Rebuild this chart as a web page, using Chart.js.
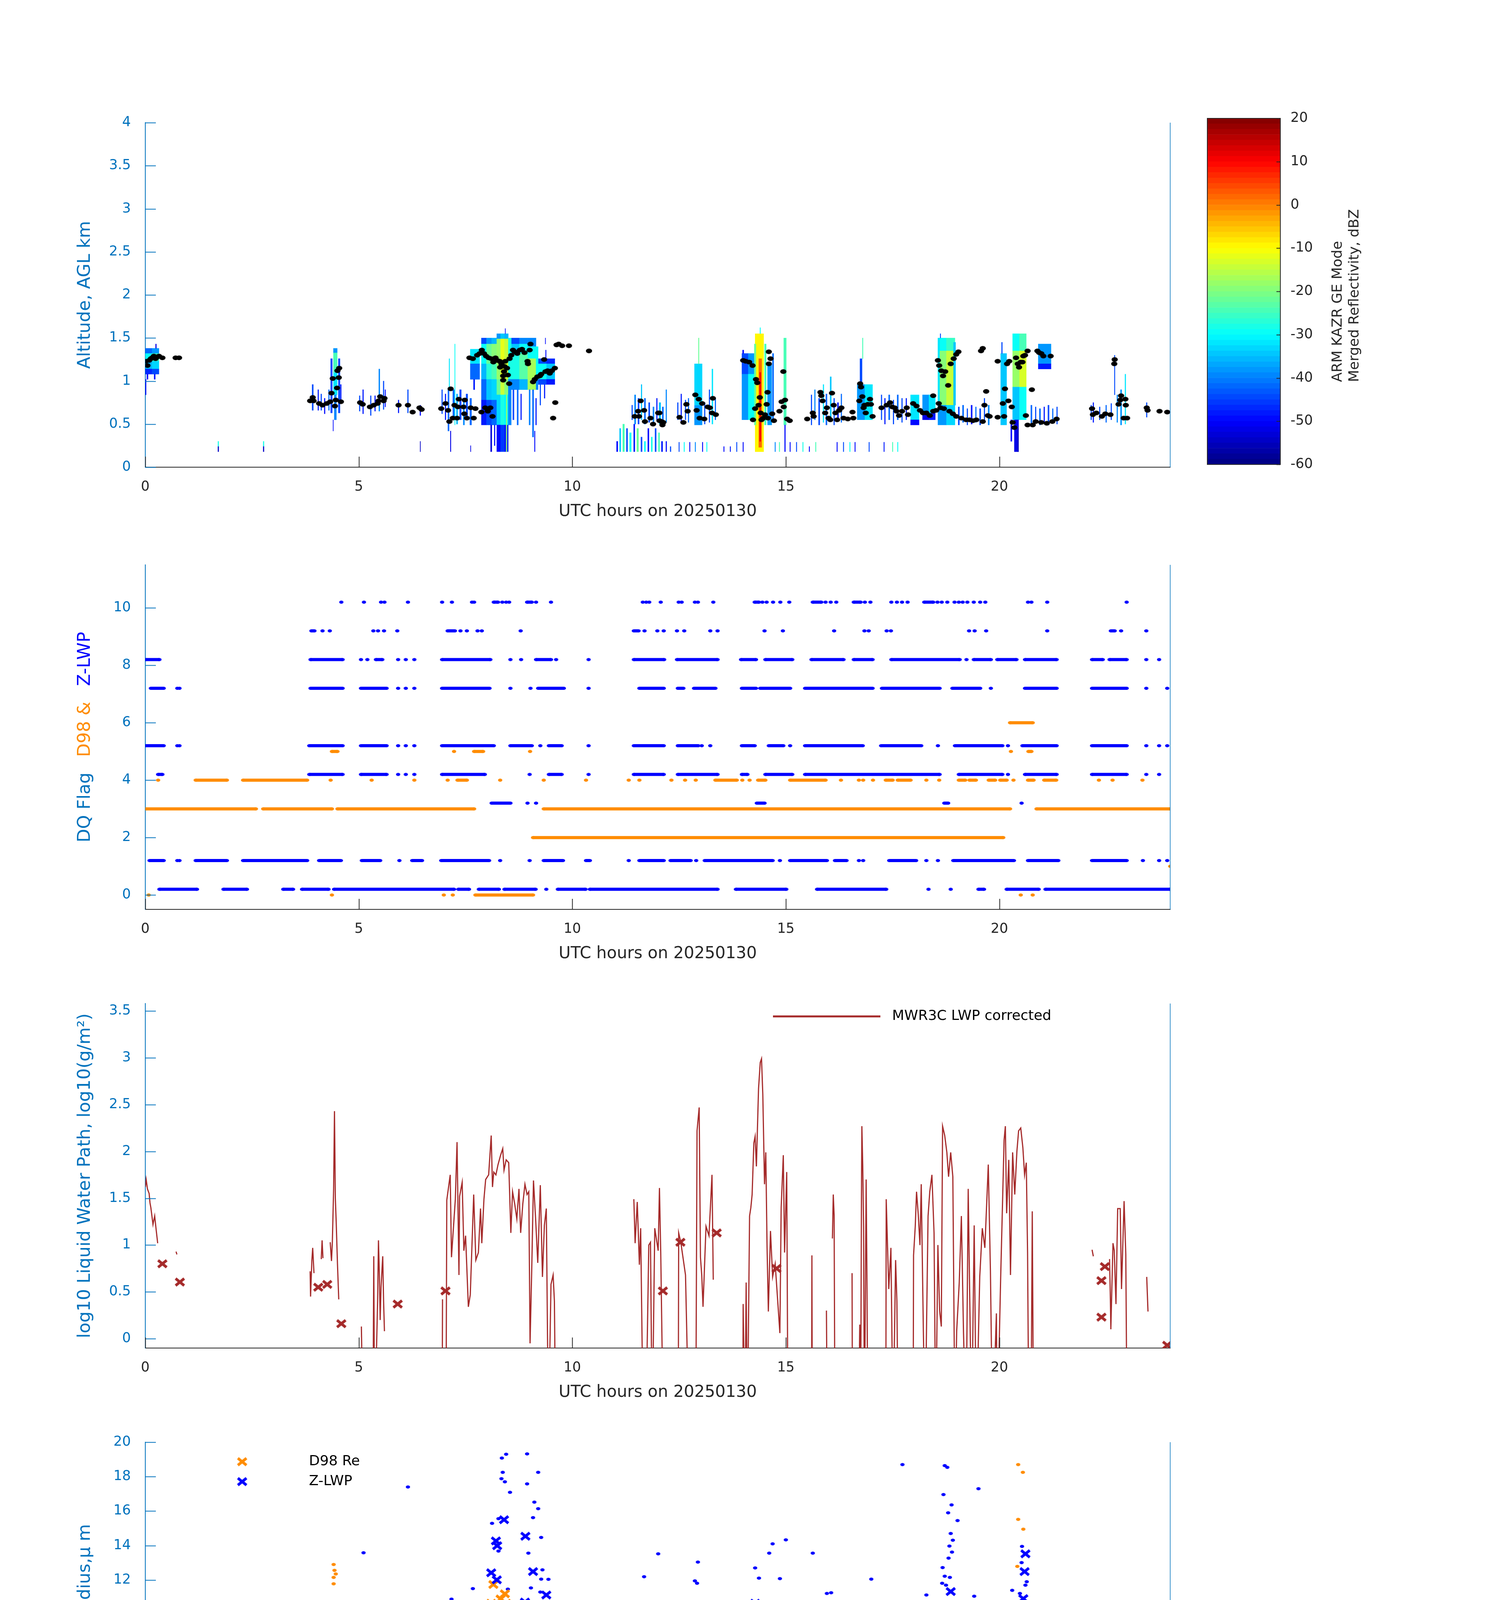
<!DOCTYPE html>
<html lang="en">
<head>
    <meta charset="UTF-8">
    <title>KAZR / MWR3C retrievals 20250130</title>
    <script src="https://cdn.jsdelivr.net/npm/chart.js"></script>
    <style>
        body { margin: 0; background: #fff; }
        #page { position: relative; width: 3825px; height: 7125px; background: #fff; }
        canvas { position: absolute; left: 0; }
    </style>
</head>
<body>
<div id="page">
    <canvas id="p1" width="3040" height="1100" style="top:256px"></canvas>
    <canvas id="cbar" width="825" height="980" style="top:256px;left:3000px"></canvas>
    <canvas id="p2" width="3040" height="1100" style="top:1388px"></canvas>
    <canvas id="p3" width="3040" height="1100" style="top:2511px"></canvas>
    <canvas id="p4" width="3040" height="1100" style="top:3634px"></canvas>
    <canvas id="p5" width="3040" height="1100" style="top:4757px"></canvas>
    <canvas id="p6" width="3040" height="1100" style="top:5888px"></canvas>
</div>
<script>
// ---------- tick labels ----------
const xTicks = [0, 5, 10, 15, 20];
const altTicks = [0, 0.5, 1, 1.5, 2, 2.5, 3, 3.5, 4];
const flagTicks = [0, 2, 4, 6, 8, 10];
const lwpTicks = [0, 0.5, 1, 1.5, 2, 2.5, 3, 3.5];
const reTicks = [0, 2, 4, 6, 8, 10, 12, 14, 16, 18, 20];
const ndTicks = [0, 50, 100, 150, 200, 250, 300];
const odTicks = [0, 10, 20, 30, 40, 50, 60, 70, 80];
const dbzTicks = [-60, -50, -40, -30, -20, -10, 0, 10, 20];

// ---------- panel 1: reflectivity cells [hour centre, width h, base km, top km, dBZ] ----------
const reflCells = [
    [0.08,0.16,1.32,1.38,-42],[0.08,0.16,1.23,1.32,-30],[0.08,0.16,1.14,1.23,-36],[0.08,0.16,1.08,1.14,-47],
    [0.24,0.16,1.32,1.38,-38],[0.24,0.16,1.23,1.32,-26],[0.24,0.16,1.14,1.23,-33],[0.24,0.16,1.08,1.14,-45],
    [0.05,0.03,1.02,1.08,-50],[0.22,0.03,1.02,1.08,-48],[0.01,0.02,0.84,1.02,-50],[0.25,0.02,1.38,1.43,-52],
    [1.71,0.02,0.24,0.30,-28],[1.71,0.02,0.18,0.24,-54],[2.77,0.02,0.24,0.30,-28],[2.77,0.02,0.18,0.24,-54],
    [3.92,0.03,0.66,0.96,-45],[4.05,0.02,0.66,0.90,-48],[4.12,0.02,0.66,0.85,-45],[4.20,0.02,0.62,0.80,-50],[4.30,0.02,0.66,0.90,-42],
    [4.36,0.04,0.63,1.26,-45],[4.45,0.09,0.84,1.10,-32],[4.45,0.09,1.10,1.33,-25],[4.45,0.09,1.33,1.38,-38],[4.45,0.05,0.55,0.84,-40],
    [4.40,0.01,0.42,0.55,-50],[4.54,0.04,0.63,1.26,-45],[4.58,0.02,0.74,0.96,-48],
    [5.02,0.02,0.65,0.83,-45],[5.10,0.02,0.62,0.90,-48],[5.28,0.02,0.60,0.83,-45],[5.38,0.02,0.65,0.83,-48],[5.48,0.025,0.65,1.14,-40],
    [5.58,0.02,0.67,1.00,-45],[5.62,0.015,0.70,0.90,-50],
    [5.93,0.02,0.63,0.78,-48],[6.15,0.02,0.63,0.90,-45],[6.44,0.02,0.60,0.72,-50],[6.44,0.01,0.18,0.30,-55],
    [6.95,0.02,0.62,0.90,-45],[7.03,0.02,0.55,0.85,-48],[7.10,0.03,0.42,0.90,-42],[7.12,0.015,0.90,1.26,-32],[7.15,0.015,0.18,0.42,-52],
    [7.25,0.012,0.49,1.43,-30],[7.22,0.04,0.55,0.90,-42],[7.30,0.03,0.50,0.85,-36],[7.38,0.04,0.55,0.90,-45],[7.46,0.03,0.49,0.80,-40],
    [7.53,0.04,0.55,0.85,-45],[7.62,0.04,0.49,0.80,-42],[7.62,0.01,0.18,0.25,-52],
    [7.72,0.22,1.20,1.37,-32],[7.72,0.22,1.02,1.20,-42],[7.70,0.03,0.90,1.02,-48],
    [7.93,0.12,1.43,1.50,-45],[7.93,0.12,1.20,1.43,-30],[7.93,0.12,1.02,1.20,-36],[7.93,0.12,0.78,1.02,-42],[7.93,0.12,0.49,0.78,-48],
    [8.05,0.12,1.43,1.50,-38],[8.05,0.12,1.20,1.43,-22],[8.05,0.12,1.02,1.20,-27],[8.05,0.12,0.78,1.02,-35],[8.05,0.12,0.49,0.78,-44],
    [8.17,0.12,1.43,1.50,-36],[8.17,0.12,1.20,1.43,-20],[8.17,0.12,1.02,1.20,-25],[8.17,0.12,0.78,1.02,-33],[8.17,0.12,0.49,0.78,-42],
    [8.275,0.09,1.49,1.55,-38],[8.275,0.09,1.02,1.49,-18],[8.275,0.09,0.84,1.02,-22],[8.275,0.09,0.49,0.84,-33],[8.275,0.09,0.18,0.49,-50],
    [8.365,0.09,1.49,1.55,-34],[8.365,0.09,1.02,1.49,-12],[8.365,0.09,0.84,1.02,-15],[8.365,0.09,0.49,0.84,-28],[8.365,0.09,0.18,0.49,-46],
    [8.455,0.09,1.49,1.55,-36],[8.455,0.09,1.02,1.49,-15],[8.455,0.09,0.84,1.02,-19],[8.455,0.09,0.49,0.84,-31],[8.455,0.09,0.18,0.49,-48],
    [8.535,0.07,1.02,1.50,-28],[8.535,0.07,0.49,1.02,-40],
    [8.10,0.03,0.18,0.49,-53],[8.18,0.02,0.25,0.49,-50],[8.46,0.02,0.18,0.84,-18],[8.43,0.01,1.55,1.61,-50],
    [8.665,0.19,1.43,1.50,-44],[8.665,0.19,1.32,1.43,-34],[8.665,0.19,1.02,1.32,-28],[8.665,0.19,0.90,1.02,-40],
    [8.855,0.19,1.43,1.50,-40],[8.855,0.19,1.32,1.43,-30],[8.855,0.19,1.02,1.32,-23],[8.855,0.19,0.90,1.02,-36],
    [9.05,0.20,1.40,1.50,-40],[9.05,0.20,1.26,1.40,-30],[9.05,0.20,0.90,1.26,-17],
    [9.175,0.05,1.02,1.40,-30],[9.175,0.05,0.90,1.02,-40],
    [9.295,0.19,1.20,1.26,-45],[9.295,0.19,1.02,1.20,-30],[9.295,0.19,0.96,1.02,-45],
    [9.49,0.20,1.20,1.26,-47],[9.49,0.20,1.02,1.20,-35],[9.49,0.20,0.96,1.02,-48],
    [8.62,0.03,0.55,0.90,-45],[8.72,0.03,0.49,0.90,-42],[8.80,0.02,0.55,0.85,-48],[9.00,0.03,0.49,0.90,-40],[9.08,0.03,0.35,0.90,-42],
    [9.15,0.02,0.49,0.80,-48],[9.25,0.02,0.72,0.96,-45],[9.35,0.02,0.80,0.96,-48],
    [9.38,0.015,1.26,1.36,-50],[9.37,0.01,1.43,1.50,-50],[9.12,0.015,0.18,0.42,-50],
    [11.05,0.03,0.18,0.30,-50],[11.12,0.03,0.18,0.45,-35],[11.20,0.04,0.18,0.50,-25],[11.28,0.03,0.18,0.45,-45],[11.36,0.04,0.18,0.40,-30],
    [11.45,0.03,0.18,0.50,-48],[11.53,0.04,0.18,0.45,-22],[11.62,0.03,0.18,0.35,-45],[11.70,0.03,0.18,0.30,-30],[11.78,0.03,0.18,0.45,-50],
    [11.86,0.03,0.18,0.35,-28],[11.95,0.03,0.18,0.45,-45],[12.03,0.03,0.18,0.40,-25],[12.10,0.03,0.18,0.30,-48],[12.20,0.02,0.18,0.30,-50],
    [12.30,0.02,0.18,0.24,-45],
    [11.40,0.02,0.55,0.72,-45],[11.47,0.03,0.50,0.84,-40],[11.55,0.03,0.50,0.80,-45],[11.62,0.02,0.55,0.96,-35],[11.70,0.03,0.50,0.80,-42],
    [11.80,0.03,0.52,0.75,-45],[11.90,0.03,0.50,0.70,-40],[11.98,0.02,0.55,0.80,-48],[12.05,0.04,0.50,0.75,-35],[12.12,0.03,0.50,0.70,-42],
    [12.20,0.02,0.52,0.90,-40],
    [12.47,0.02,0.55,0.75,-45],[12.55,0.02,0.52,0.85,-48],[12.65,0.02,0.55,0.78,-45],[12.72,0.02,0.52,0.80,-42],
    [12.95,0.18,0.49,0.72,-38],[12.95,0.18,0.72,1.20,-33],[12.96,0.015,1.20,1.50,-22],
    [13.10,0.02,0.50,0.75,-45],[13.21,0.02,0.52,0.90,-45],[13.28,0.025,0.50,1.14,-32],[13.35,0.02,0.55,0.80,-42],
    [12.50,0.015,0.18,0.29,-45],[12.62,0.015,0.18,0.29,-30],[12.75,0.015,0.18,0.29,-50],[12.88,0.015,0.18,0.29,-40],[13.05,0.015,0.18,0.29,-50],
    [13.15,0.015,0.18,0.29,-30],[13.55,0.015,0.18,0.24,-50],[13.70,0.015,0.18,0.24,-48],[13.85,0.015,0.18,0.29,-45],
    [14.045,0.15,1.08,1.32,-45],[14.045,0.15,0.55,1.08,-38],[14.195,0.15,1.08,1.32,-38],[14.195,0.15,0.55,1.08,-30],
    [14.00,0.03,1.32,1.36,-50],[14.00,0.015,0.18,0.29,-50],
    [14.38,0.20,0.18,1.55,-10],[14.40,0.07,0.23,1.26,2],[14.40,0.03,0.30,1.10,10],[14.28,0.04,0.49,1.43,-22],[14.52,0.04,0.49,1.43,-25],
    [14.40,0.015,1.55,1.62,-30],[14.62,0.10,0.49,1.20,-38],[14.70,0.03,0.55,1.32,-42],
    [14.98,0.06,0.49,1.50,-25],[14.98,0.02,0.18,0.49,-50],
    [14.75,0.015,0.18,0.29,-40],[14.85,0.015,0.18,0.29,-25],[15.10,0.015,0.18,0.29,-50],[15.25,0.015,0.18,0.29,-45],[15.40,0.015,0.18,0.29,-28],
    [15.55,0.015,0.18,0.24,-50],[15.70,0.015,0.18,0.29,-25],
    [15.60,0.02,0.49,0.84,-45],[15.68,0.02,0.55,0.90,-40],[15.78,0.03,0.49,0.80,-45],[15.88,0.02,0.52,0.96,-32],[15.95,0.03,0.49,0.85,-42],
    [16.05,0.03,0.55,1.05,-35],[16.13,0.02,0.49,0.80,-45],[16.22,0.03,0.55,0.75,-48],[16.30,0.02,0.52,0.85,-42],
    [16.76,0.18,0.55,0.96,-38],[16.94,0.18,0.55,0.96,-32],[16.76,0.05,0.96,1.26,-45],[16.80,0.015,1.26,1.50,-25],
    [16.20,0.015,0.18,0.29,-50],[16.35,0.015,0.18,0.29,-45],[16.50,0.015,0.18,0.29,-30],[16.62,0.015,0.18,0.29,-50],[16.95,0.015,0.18,0.29,-45],
    [17.30,0.015,0.18,0.29,-48],[17.50,0.015,0.18,0.29,-25],[17.62,0.015,0.18,0.29,-30],
    [17.24,0.02,0.55,0.84,-45],[17.32,0.02,0.50,0.80,-48],[17.42,0.03,0.55,0.84,-42],[17.52,0.02,0.50,0.78,-45],[17.62,0.03,0.55,0.84,-42],
    [17.72,0.02,0.52,0.80,-45],[17.82,0.02,0.55,0.80,-48],[18.02,0.20,0.55,0.84,-32],[18.02,0.20,0.49,0.55,-50],
    [18.275,0.15,0.55,0.63,-52],[18.275,0.15,0.63,0.84,-38],[18.425,0.15,0.55,0.63,-48],[18.425,0.15,0.63,0.84,-32],
    [18.66,0.20,1.35,1.50,-30],[18.66,0.20,0.72,1.35,-20],[18.66,0.20,0.49,0.72,-38],
    [18.86,0.20,1.35,1.50,-26],[18.86,0.20,0.72,1.35,-14],[18.86,0.20,0.49,0.72,-33],
    [18.58,0.04,0.72,1.50,-32],[18.95,0.05,0.72,1.45,-35],[18.62,0.015,1.50,1.55,-45],
    [19.05,0.03,0.49,0.70,-45],[19.15,0.03,0.52,0.72,-42],[19.25,0.02,0.49,0.68,-45],[19.35,0.03,0.50,0.72,-48],[19.45,0.02,0.52,0.70,-42],
    [19.55,0.03,0.49,0.68,-45],[19.65,0.02,0.52,0.80,-45],[19.75,0.03,0.49,0.72,-40],
    [20.10,0.14,0.49,1.32,-35],[20.06,0.02,1.32,1.45,-45],
    [20.39,0.16,1.35,1.55,-30],[20.39,0.16,0.93,1.35,-18],[20.39,0.16,0.55,0.93,-34],
    [20.55,0.16,1.35,1.55,-25],[20.55,0.16,0.93,1.35,-13],[20.55,0.16,0.55,0.93,-30],
    [20.40,0.10,0.18,0.55,-52],[20.28,0.03,0.30,0.55,-50],[20.44,0.015,0.18,0.45,-56],
    [21.06,0.30,1.20,1.43,-38],[21.06,0.30,1.14,1.20,-48],
    [20.75,0.03,0.49,0.72,-42],[20.85,0.02,0.52,0.70,-45],[20.95,0.03,0.49,0.68,-42],[21.05,0.02,0.52,0.70,-48],[21.15,0.03,0.49,0.72,-45],
    [21.25,0.02,0.52,0.68,-42],[21.35,0.02,0.50,0.70,-45],
    [22.15,0.02,0.55,0.72,-45],[22.20,0.02,0.52,0.75,-48],[22.35,0.02,0.55,0.70,-45],[22.50,0.02,0.52,0.72,-42],[22.62,0.02,0.55,0.74,-45],
    [22.70,0.015,0.84,1.30,-45],[22.76,0.02,0.52,0.84,-40],[22.85,0.03,0.49,0.90,-38],[22.95,0.02,0.50,1.08,-32],
    [23.45,0.02,0.58,0.75,-45]
];

// black cloud-base markers [hour, km]
const baseHeights = [
    [0.01,1.23],[0.05,1.18],[0.09,1.24],[0.13,1.26],[0.16,1.27],[0.20,1.29],[0.24,1.26],[0.28,1.28],[0.32,1.29],[0.40,1.27],[0.71,1.27],[0.79,1.27],
    [3.86,0.77],[3.92,0.81],[3.94,0.77],[4.07,0.74],[4.15,0.72],[4.25,0.74],[4.33,0.76],[4.36,0.86],[4.39,1.03],[4.44,0.71],[4.46,0.78],
    [4.49,0.92],[4.50,1.12],[4.54,1.15],[4.53,1.04],[4.58,0.76],
    [5.03,0.75],[5.09,0.73],[5.26,0.70],[5.35,0.72],[5.44,0.74],[5.46,0.77],[5.50,0.82],[5.58,0.77],[5.60,0.80],
    [5.93,0.72],[6.15,0.72],[6.26,0.64],[6.42,0.69],[6.47,0.67],
    [6.93,0.68],[7.03,0.74],[7.09,0.66],[7.15,0.91],[7.12,0.53],[7.20,0.57],[7.30,0.57],[7.24,0.72],[7.32,0.70],[7.34,0.79],[7.45,0.70],
    [7.47,0.62],[7.48,0.78],[7.53,0.57],[7.62,0.69],[7.69,0.57],[7.73,0.68],[7.87,0.64],[7.96,0.69],[8.02,0.65],[8.08,0.69],[8.13,0.59],
    [7.59,1.27],[7.67,1.26],[7.77,1.30],[7.83,1.32],[7.88,1.36],[7.93,1.32],[7.98,1.29],[8.04,1.27],[8.10,1.26],[8.15,1.22],[8.20,1.27],
    [8.24,1.24],[8.30,1.23],[8.34,1.20],[8.38,1.06],[8.40,1.11],[8.41,1.17],[8.43,1.23],[8.47,1.15],[8.49,1.07],[8.52,0.97],[8.38,1.01],
    [8.31,1.16],[8.53,1.26],[8.57,1.30],[8.61,1.36],[8.65,1.34],[8.71,1.32],[8.77,1.36],[8.82,1.37],[8.88,1.33],[8.95,1.23],[8.96,1.20],
    [9.00,1.36],[9.02,1.43],[9.08,0.99],[9.12,1.02],[9.18,1.05],[9.24,1.06],[9.27,1.08],[9.34,1.25],[9.37,1.11],[9.42,1.12],[9.47,1.09],
    [9.52,1.12],[9.59,1.15],[9.60,0.75],[9.55,0.57],[9.63,1.42],[9.68,1.43],[9.76,1.41],[9.92,1.41],[10.39,1.35],
    [11.46,0.59],[11.54,0.65],[11.60,0.77],[11.56,0.59],[11.68,0.66],[11.70,0.53],[11.83,0.57],[11.89,0.50],[12.01,0.63],[12.09,0.53],[12.13,0.52],
    [12.04,0.63],[12.04,0.54],[12.11,0.49],[12.51,0.58],[12.60,0.52],[12.67,0.73],[12.70,0.65],[12.88,0.84],[12.91,0.66],[12.96,0.79],
    [12.98,0.57],[13.04,0.74],[13.09,0.56],[13.17,0.70],[13.22,0.69],[13.29,0.80],[13.27,0.63],[13.36,0.61],
    [14.00,1.24],[14.06,1.23],[14.14,1.22],[14.22,1.18],[14.30,1.02],[14.33,0.98],[14.23,0.55],[14.28,0.68],[14.36,0.72],[14.39,0.81],
    [14.41,0.63],[14.43,0.55],[14.47,0.57],[14.51,0.61],[14.55,0.73],[14.58,0.57],[14.60,1.34],[14.64,1.26],[14.60,1.20],[14.57,0.87],
    [14.68,0.62],[14.72,0.54],[14.85,0.65],[14.90,0.76],[14.94,1.11],[14.95,0.70],[14.98,0.78],[15.03,0.56],[15.09,0.54],
    [15.50,0.56],[15.63,0.63],[15.65,0.59],[15.81,0.87],[15.83,0.83],[15.86,0.77],[15.92,0.63],[15.96,0.69],[16.00,0.57],[16.04,0.55],
    [16.08,0.86],[16.12,0.72],[16.16,0.63],[16.20,0.55],[16.25,0.66],[16.30,0.69],[16.35,0.57],[16.45,0.56],[16.56,0.64],[16.58,0.57],
    [16.72,0.77],[16.74,0.97],[16.76,0.93],[16.79,0.82],[16.82,0.69],[16.84,0.72],[16.87,0.63],[16.92,0.73],[16.97,0.79],[16.99,0.73],[17.03,0.59],
    [17.24,0.69],[17.36,0.72],[17.44,0.75],[17.49,0.70],[17.55,0.69],[17.59,0.65],[17.65,0.60],[17.72,0.65],[17.83,0.69],[17.86,0.61],
    [17.98,0.74],[18.06,0.71],[18.14,0.66],[18.21,0.63],[18.29,0.63],[18.37,0.60],[18.45,0.65],[18.52,0.66],[18.58,0.74],[18.62,0.69],
    [18.70,0.68],[18.45,0.83],[18.56,1.24],[18.59,1.18],[18.64,1.12],[18.68,1.06],[18.73,1.11],[18.80,0.95],[18.86,1.20],[18.93,1.26],
    [18.99,1.31],[19.04,1.34],[18.83,0.65],[18.91,0.62],[18.99,0.59],[19.11,0.57],[19.22,0.55],[19.30,0.55],[19.38,0.54],[19.46,0.55],
    [19.61,0.53],[19.73,0.60],[19.77,0.59],[19.61,1.38],[19.57,1.35],[19.65,0.72],[19.69,0.88],
    [19.96,0.58],[19.96,1.23],[20.08,0.74],[20.13,0.91],[20.11,0.59],[20.21,0.77],[20.18,1.20],[20.23,1.23],[20.29,0.70],[20.31,0.52],
    [20.35,0.46],[20.39,1.27],[20.43,1.20],[20.46,1.16],[20.50,1.22],[20.54,1.22],[20.56,1.29],[20.60,1.30],[20.62,0.60],[20.66,1.35],
    [20.66,0.49],[20.76,0.90],[20.78,0.49],[20.85,0.53],[20.89,1.35],[20.93,1.33],[20.98,1.32],[21.03,1.29],[20.98,0.52],[21.11,0.51],
    [21.20,1.29],[21.24,0.53],[21.34,0.56],
    [22.17,0.68],[22.19,0.61],[22.27,0.63],[22.40,0.59],[22.48,0.62],[22.60,0.61],[22.70,1.25],[22.69,1.20],[22.79,0.73],[22.83,0.78],
    [22.85,0.83],[22.95,0.79],[22.96,0.72],[22.99,0.57],[22.91,0.57],[23.45,0.69],[23.47,0.66],[23.75,0.65],[23.93,0.64]
];

// ---------- panel 2: quality flags, single hours or [start, end] runs ----------
const d98FlagRuns = [
    [0, [0.08, 4.37, 6.99, 7.20, [7.73, 9.08], 20.50, 20.78]],
    [1, [24.0]],
    [2, [[9.08, 20.09]]],
    [3, [[0.0, 2.59], [2.76, 4.37], [4.50, 7.70], [9.33, 20.25], [20.87, 24.0]]],
    [4, [0.30, [1.18, 1.91], [2.29, 3.79], 4.34, 5.30, 6.30, 7.08, [7.31, 7.53], 8.31, 9.33, 10.32, 11.32, 11.57, 12.32, 12.64, 12.89,
         [13.35, 13.85], 13.98, 14.15, [14.35, 14.52], [15.10, 15.93], 16.29, 16.71, 16.81, 17.04, [17.34, 17.50], [17.62, 17.92], 18.29,
         18.59, [19.05, 19.20], [19.30, 19.45], [19.75, 19.90], [20.02, 20.17], 20.33, [20.67, 20.80], [21.05, 21.33], 22.33, 22.65, 23.35]],
    [5, [[4.37, 4.50], 7.23, [7.70, 7.91], 9.01, 20.27, [20.68, 20.75]]],
    [6, [[20.25, 20.78]]]
];
const zlwpFlagRuns = [
    [0.2, [[0.33, 1.21], [1.83, 2.38], [3.23, 3.46], [3.67, 4.29], [4.42, 7.23], [7.33, 7.58], [7.81, 8.28], [8.41, 9.14], 9.39,
           [9.66, 10.31], [10.41, 13.40], [13.83, 15.01], [15.73, 17.35], 18.34, 18.86, [19.51, 19.64], [20.17, 20.92], [21.08, 24.0]]],
    [1.2, [[0.10, 0.43], 0.75, 0.80, [1.18, 1.91], [2.29, 3.79], [4.07, 4.58], [5.07, 5.50], 5.95, [6.25, 6.48], [6.93, 8.05], 8.31, 9.00,
           [9.33, 9.78], [10.32, 10.41], 11.32, [11.57, 12.14], [12.30, 12.77], 12.90, [13.10, 14.69], 14.86, [15.10, 15.96], [16.15, 16.42],
           16.71, 16.81, [17.42, 18.05], 18.29, 18.56, [18.92, 20.34], [20.67, 21.38], [22.17, 22.98], 23.36, 23.74, 23.93]],
    [3.2, [[8.11, 8.55], 8.95, 9.15, [14.32, 14.50], [18.71, 18.80], 20.52]],
    [4.2, [[0.30, 0.40], [3.84, 4.62], [5.05, 5.65], 5.92, 6.10, 6.30, [6.95, 7.95], 9.00, [9.45, 9.75], 10.38, [11.44, 12.14],
           [12.47, 13.40], [13.97, 14.10], [14.52, 15.15], [15.45, 18.60], [19.05, 20.07], 20.20, [20.60, 21.34], [22.17, 22.98], 23.44, 23.74]],
    [5.2, [[0.0, 0.43], 0.75, 0.80, [3.84, 4.62], [5.05, 5.65], 5.92, 6.10, 6.30, [6.95, 8.16], [8.55, 9.05], 9.25, [9.45, 9.75], 10.38,
           [11.44, 12.14], [12.47, 12.95], 13.03, 13.23, [13.97, 14.27], [14.60, 14.94], 15.10, [15.45, 16.80], [17.23, 18.17], 18.56,
           [18.96, 20.07], 20.20, [20.54, 21.34], [22.17, 22.98], 23.44, 23.74, 23.93]],
    [7.2, [[0.13, 0.43], 0.75, 0.80, [3.87, 4.62], [5.05, 5.65], 5.92, 6.10, 6.30, [6.95, 8.06], 8.55, 9.02, [9.20, 9.80], 10.38,
           [11.57, 12.14], [12.47, 12.60], [12.85, 13.35], [13.97, 14.30], [14.40, 15.10], [15.45, 17.03], [17.25, 18.60], [18.90, 19.55],
           19.80, [20.60, 21.34], [22.17, 22.98], 23.44, 23.93]],
    [8.2, [[0.0, 0.33], [3.87, 4.62], 5.05, 5.20, [5.40, 5.55], 5.92, 6.10, 6.30, [6.95, 8.08], 8.55, 8.80, [9.15, 9.50], 9.62, 10.38,
           [11.44, 12.15], [12.45, 13.40], [13.95, 14.30], [14.52, 15.15], [15.60, 16.35], [16.59, 17.03], [17.47, 19.07], 19.23,
           [19.40, 19.80], [19.95, 20.40], [20.60, 21.34], [22.17, 22.42], [22.58, 22.98], 23.44, 23.74]],
    [9.2, [[3.89, 3.96], 4.15, 4.32, 5.34, 5.45, 5.59, 5.90, [7.08, 7.25], 7.38, 7.53, 7.78, 7.88, 8.79, [11.44, 11.55], 11.69, 11.99,
           12.14, 12.45, 12.62, 13.23, 13.40, 14.50, 14.93, 16.13, 16.84, 16.94, 17.36, 17.46, 19.29, 19.42, 19.69, 21.12, [22.61, 22.70],
           22.85, 23.44]],
    [10.2, [4.59, 5.12, 5.52, 5.60, 6.15, 6.95, 7.18, 7.65, 7.70, [8.16, 8.26], 8.36, 8.45, 8.52, [8.94, 9.05], 9.15, 9.50, 11.65, 11.73,
            11.80, 12.07, 12.49, 12.56, 12.87, 12.94, 13.30, [14.27, 14.37], 14.45, 14.55, 14.70, 14.87, 15.08, [15.63, 15.83], 15.93,
            16.05, 16.18, [16.59, 16.75], 16.85, 16.98, 17.47, 17.60, 17.72, 17.85, [18.24, 18.45], 18.55, 18.65, 18.78, 18.95, 19.05,
            19.14, 19.25, 19.40, 19.55, 19.67, 20.67, 20.75, 21.12, 22.98]]
];

// ---------- panel 3: log10 LWP (null = gap, -1 = below axis) ----------
const lwpSeries = [
    [0.00,1.62],[0.02,1.70],[0.05,1.60],[0.09,1.55],[0.11,1.45],[0.13,1.40],[0.18,1.22],[0.22,1.31],[0.25,1.18],[0.29,1.02],[0.30,null],
    [0.72,0.93],[0.74,0.90],[0.75,null],
    [3.86,0.72],[3.87,0.45],[3.90,0.83],[3.92,0.97],[3.95,0.70],[3.96,null],
    [4.12,0.85],[4.14,1.05],[4.16,0.86],[4.17,null],
    [4.33,1.03],[4.36,0.83],[4.38,1.03],[4.41,1.60],[4.43,2.43],[4.45,1.50],[4.47,1.25],[4.50,0.80],[4.53,0.42],[4.54,null],
    [5.06,0.13],[5.10,-1],[5.11,null],
    [5.33,-1],[5.35,0.88],[5.37,-1],[5.44,0.40],[5.46,1.05],[5.48,0.70],[5.50,0.20],[5.52,0.55],[5.56,0.88],[5.58,0.40],[5.60,0.08],[5.61,null],
    [6.95,-1],[6.96,0.42],[6.97,null],
    [7.04,-1],[7.06,1.48],[7.14,1.75],[7.17,0.87],[7.26,1.49],[7.30,2.10],[7.345,0.68],[7.36,1.52],[7.42,1.67],[7.46,0.94],[7.50,1.10],
    [7.565,0.34],[7.61,0.47],[7.69,1.54],[7.74,0.84],[7.80,0.92],[7.85,1.39],[7.88,1.02],[7.93,1.49],[7.97,1.70],[8.04,1.75],[8.10,2.17],
    [8.13,1.62],[8.16,1.78],[8.21,1.75],[8.26,1.86],[8.32,1.96],[8.37,2.03],[8.40,1.80],[8.45,1.91],[8.51,1.88],[8.56,1.13],[8.60,1.57],
    [8.65,1.44],[8.70,1.28],[8.75,1.60],[8.79,1.13],[8.84,1.44],[8.89,1.65],[8.94,1.54],[8.98,1.57],[9.01,-0.05],[9.05,0.76],[9.09,1.69],
    [9.14,1.28],[9.19,0.81],[9.25,1.64],[9.30,0.66],[9.345,1.21],[9.39,1.39],[9.44,-1],[9.50,0.58],[9.55,0.68],[9.58,0.40],[9.61,-1],[9.62,null],
    [11.44,1.49],[11.47,1.02],[11.52,1.46],[11.57,0.79],[11.60,1.18],[11.66,-1],[11.72,-1],[11.79,1.00],[11.83,1.03],[11.87,-1],[11.93,1.18],
    [12.01,0.94],[12.04,1.61],[12.07,0.92],[12.13,-1],[12.48,-1],[12.49,1.13],[12.54,1.03],[12.65,0.68],[12.68,0.06],[12.73,-1],[12.89,-1],
    [12.92,2.22],[12.97,2.47],[13.00,0.87],[13.03,0.68],[13.06,0.34],[13.13,1.20],[13.20,1.10],[13.27,1.75],[13.30,0.63],[13.33,null],
    [13.99,-1],[14.00,0.37],[14.04,-1],[14.07,0.60],[14.10,-1],[14.15,1.31],[14.18,1.40],[14.21,1.54],[14.25,2.09],[14.28,2.16],[14.31,1.84],
    [14.36,2.67],[14.40,2.95],[14.43,2.99],[14.46,2.61],[14.50,1.65],[14.53,1.99],[14.56,0.97],[14.59,0.29],[14.64,1.15],[14.69,0.66],
    [14.75,0.80],[14.86,0.06],[14.89,1.40],[14.94,1.96],[14.97,0.92],[15.02,1.78],[15.05,-1],[15.06,null],
    [15.60,-1],[15.61,0.89],[15.62,-1],[15.63,null],
    [15.95,0.30],[15.97,-1],[15.98,null],
    [16.09,1.07],[16.11,1.54],[16.13,1.32],[16.15,-1],[16.16,null],
    [16.55,0.70],[16.56,-1],[16.57,null],
    [16.70,-1],[16.73,0.15],[16.75,-1],[16.77,1.50],[16.78,2.27],[16.80,1.85],[16.82,1.19],[16.84,-1],[16.88,1.70],[16.90,0.55],[16.92,-1],[16.93,null],
    [17.34,-1],[17.35,1.49],[17.38,1.00],[17.41,0.53],[17.46,0.97],[17.51,-1],[17.57,0.84],[17.60,0.40],[17.63,-1],[17.64,null],
    [17.98,-1],[17.99,0.89],[18.03,1.20],[18.06,1.57],[18.10,1.33],[18.14,1.00],[18.17,1.65],[18.22,0.08],[18.26,-1],[18.33,1.31],[18.37,1.57],
    [18.42,1.75],[18.47,1.13],[18.51,-1],[18.56,1.00],[18.60,0.30],[18.64,0.13],[18.67,2.27],[18.72,2.17],[18.77,1.99],[18.81,1.73],[18.86,1.99],
    [18.91,1.73],[18.96,-1],[19.00,0.08],[19.06,0.60],[19.11,1.31],[19.16,0.06],[19.22,-1],[19.27,1.60],[19.35,-1],[19.41,1.21],[19.46,-1],
    [19.54,0.66],[19.60,1.18],[19.66,0.97],[19.74,1.86],[19.79,0.73],[19.84,-1],[19.93,0.27],[19.95,-1],[20.03,0.65],[20.11,2.12],[20.14,2.27],
    [20.17,1.34],[20.22,1.91],[20.26,0.68],[20.31,1.99],[20.36,1.54],[20.41,2.00],[20.45,2.22],[20.50,2.25],[20.55,2.04],[20.59,1.75],[20.63,1.88],
    [20.66,0.92],[20.69,-1],[20.74,-1],[20.77,1.36],[20.80,-1],[20.81,null],
    [22.17,0.95],[22.20,0.88],[22.21,null],
    [22.58,0.85],[22.60,0.40],[22.61,0.10],[22.66,1.02],[22.69,0.94],[22.73,0.37],[22.77,1.39],[22.83,1.39],[22.86,0.53],[22.92,1.47],
    [22.96,0.90],[22.99,-1],[23.00,null],
    [23.45,0.66],[23.48,0.29]
];
const lwpMarks = [[0.40,0.80],[0.81,0.605],[4.05,0.55],[4.26,0.58],[4.59,0.16],[5.91,0.37],[7.03,0.51],[12.12,0.51],[12.53,1.03],
    [13.38,1.13],[14.78,0.75],[22.39,0.23],[22.39,0.62],[22.47,0.77],[23.93,-0.07]];

// ---------- panel 4: effective radius (um) ----------
const reD98X = [[0.08,10.1],[0.08,9.4],[0.10,9.8],[4.38,7.8],[4.45,7.3],[7.71,7.7],[7.93,5.05],[7.93,4.65],[7.96,5.6],[7.97,6.3],[7.99,6.8],
    [8.02,7.3],[8.05,7.65],[8.10,10.65],[8.12,10.24],[8.13,9.7],[8.15,11.74],[8.20,9.15],[8.23,8.74],[8.26,9.28],[8.29,10.4],[8.32,10.9],
    [8.35,9.97],[8.38,9.42],[8.42,11.2],[8.45,10.65],[8.48,8.87],[8.51,8.46],[8.56,7.5],[8.59,7.1],[8.64,6.8],[8.70,6.14],[8.73,5.73],
    [8.76,5.19],[8.79,4.91],[8.83,4.37],[8.86,3.96],[8.89,3.69],[8.92,5.19],[8.95,4.71],[8.98,4.23],[9.01,3.55],[9.05,3.82],[9.08,5.05],
    [9.11,4.64],[9.12,5.19]];
const reD98Dots = [[4.41,12.9],[4.43,12.56],[4.46,12.35],[4.41,12.15],[4.41,11.78],[4.48,9.0],[7.22,6.72],[7.79,6.99],[7.80,6.48],
    [7.75,5.87],[7.85,6.28],[9.00,2.9],[9.03,2.18],[20.44,18.7],[20.55,18.25],[20.44,15.52],[20.56,14.95],[20.42,12.79],[20.41,10.24],
    [20.63,10.17],[20.66,9.42],[20.33,9.08],[20.28,8.67],[20.36,8.33],[20.67,8.08],[20.69,6.42],[20.77,3.39]];
const reZX = [[4.38,7.37],[4.41,7.58],[4.46,7.99],[4.49,8.4],[4.46,8.2],[7.09,7.78],[7.14,8.8],[7.17,8.67],[8.02,8.33],[8.05,8.05],
    [8.10,12.42],[8.13,8.12],[8.21,14.27],[8.24,13.99],[8.23,12.01],[8.40,15.5],[8.49,9.0],[8.57,9.76],[8.61,8.46],[8.64,7.85],[8.67,7.3],
    [8.68,6.83],[8.72,7.1],[8.73,7.78],[8.04,7.24],[8.16,6.89],[8.87,9.83],[8.89,10.72],[8.90,14.54],[8.98,8.4],[9.08,12.49],[9.09,9.35],
    [9.39,11.13],[12.98,8.4],[12.98,6.89],[13.25,7.58],[14.28,10.65],[14.25,6.55],[14.50,9.08],[14.56,8.87],[16.80,8.87],[16.78,7.58],
    [16.94,7.51],[18.36,7.17],[18.86,11.33],[20.14,8.53],[20.18,8.33],[20.17,7.65],[20.14,7.17],[20.39,9.97],[20.42,9.56],[20.44,8.12],
    [20.45,7.1],[20.47,6.12],[20.56,10.92],[20.59,12.49],[20.61,13.52],[20.75,10.44]];
const reZDots = [[0.05,7.65],[0.02,7.3],[0.13,7.03],[0.10,6.69],[3.94,5.56],[3.94,4.78],[3.91,1.91],[4.15,3.48],[4.32,3.93],[4.43,6.46],
    [4.54,6.89],[4.49,7.1],[5.11,13.58],[5.33,4.19],[5.49,6.96],[5.49,6.48],[5.60,6.28],[5.47,5.39],[5.56,5.12],[5.91,3.69],[6.15,17.4],
    [6.95,8.87],[7.17,10.89],[7.09,6.55],[7.19,5.73],[7.22,5.26],[7.11,4.98],[7.17,4.07],[7.25,4.16],[7.33,3.65],[7.27,7.44],[7.45,6.35],
    [7.45,5.39],[7.49,4.55],[7.53,2.63],[7.61,6.83],[7.67,11.5],[7.74,5.62],[7.86,5.26],[7.94,6.38],[8.12,15.29],[8.27,15.56],[8.27,13.68],
    [8.35,19.08],[8.45,19.3],[8.37,18.25],[8.34,17.88],[8.42,17.7],[8.54,17.09],[8.49,11.47],[8.56,10.38],[8.70,9.04],[8.94,19.32],
    [8.94,17.58],[9.20,18.25],[9.11,16.52],[9.20,16.14],[9.08,15.62],[9.27,14.47],[8.97,13.56],[9.30,12.59],[9.27,12.05],[9.44,12.04],
    [9.03,11.54],[9.25,11.3],[9.42,10.65],[9.17,10.29],[9.36,10.17],[9.36,9.73],[9.57,8.67],[8.76,6.55],
    [11.46,4.55],[11.46,3.1],[11.54,5.32],[11.57,4.85],[11.57,3.69],[11.68,12.19],[11.68,5.49],[11.82,7.71],[11.83,6.96],[11.87,8.33],
    [12.01,13.52],[12.01,4.74],[12.04,6.55],[12.05,6.14],[12.13,5.6],[12.47,3.34],[12.54,3.99],[12.65,5.26],[12.87,11.95],[12.94,13.04],
    [12.92,11.81],[12.91,9.56],[12.92,9.31],[13.02,6.55],[13.06,7.54],[13.25,5.53],[13.38,5.53],[13.28,7.99],[13.30,9.42],
    [14.28,12.7],[14.37,12.11],[14.39,9.52],[14.51,4.98],[14.54,6.44],[14.61,13.56],[14.69,14.1],[14.67,9.9],[14.73,6.24],[14.86,12.08],
    [14.87,6.21],[14.89,7.4],[14.92,5.73],[14.91,4.6],[14.95,8.83],[15.00,14.33],[15.02,10.13],[15.05,9.35],[15.02,7.6],[15.03,7.92],
    [14.95,6.62],[15.63,13.56],[15.63,9.67],[15.96,11.22],[16.06,11.26],[15.98,10.51],[16.09,8.98],[16.12,7.33],[16.14,6.08],[16.14,5.6],
    [16.58,7.58],[16.83,5.97],[16.92,7.13],[16.94,5.22],[17.00,12.05],[17.36,4.6],[17.40,7.06],[17.46,5.15],[17.49,8.36],[17.55,7.1],
    [17.63,6.62],[17.73,18.7],[18.06,7.71],[18.07,7.06],[18.10,10.13],[18.06,6.17],[18.14,6.51],[18.20,9.04],[18.23,9.42],[18.18,6.08],
    [18.25,6.72],[18.28,8.05],[18.29,11.13],[18.37,6.65],[18.41,9.76],[18.41,7.99],[18.45,8.56],[18.47,6.83],[18.64,9.83],[18.61,9.22],
    [18.63,9.01],[18.66,11.81],[18.67,12.72],[18.69,16.96],[18.72,18.64],[18.78,18.54],[18.72,12.22],[18.75,11.7],[18.84,12.15],[18.80,15.9],
    [18.88,16.36],[18.83,13.97],[18.81,13.27],[18.89,13.62],[18.91,14.31],[18.93,10.17],[18.86,14.7],[19.02,15.45],[19.19,7.74],[19.16,7.17],
    [19.24,6.72],[19.18,6.08],[19.26,5.49],[19.41,11.06],[19.41,5.23],[19.51,17.3],[19.51,6.28],[19.65,9.67],[19.70,4.97],[19.74,7.44],
    [19.71,6.62],[19.73,6.96],[20.09,9.5],[20.23,9.92],[20.26,6.09],[20.30,11.4],[20.53,13.95],[20.52,13.01],[20.48,11.22],[20.61,11.7],
    [20.64,11.9],[20.48,9.34],[21.12,5.72],[22.71,6.05],[22.82,5.75],[22.67,4.64],[22.86,4.68],[22.89,4.71],[22.61,3.58],[22.80,3.62],
    [22.96,6.51],[22.96,6.8],[23.45,3.32]];

// ---------- panel 5: droplet concentration (#/cc) ----------
const ndD98X = [[0.08,72],[0.10,69],[0.11,63],[4.38,169],[7.97,265],[7.93,218],[7.97,181],[8.01,164],[8.05,166],[8.02,158],[7.99,117],
    [8.12,108],[7.71,100],[8.08,40],[8.15,34],[8.10,26],[8.13,20],[8.21,120],[8.24,91],[8.21,85],[8.27,89],[8.20,81],[8.32,73],[8.40,67],
    [8.16,64],[8.40,58],[8.35,51],[8.40,42],[8.45,37],[8.48,30],[8.49,22],[8.53,111],[8.59,102],[8.61,89],[8.57,84],[8.64,131],[8.70,141],
    [8.67,115],[8.75,241],[8.73,203],[8.90,296],[8.90,285],[8.94,264],[8.92,190],[9.06,211],[9.08,158],[9.09,125],[20.45,8],[20.50,12]];
const ndD98Dots = [[4.41,95],[4.41,69],[4.49,41],[4.45,35],[4.43,24],[7.22,45],[7.71,29],[7.80,88],[7.83,85],[7.79,123],[7.86,117],
    [8.08,85],[20.36,33],[20.42,19],[20.64,16],[20.39,8],[20.29,12],[20.77,239]];
const ndZX = [[4.41,129],[4.46,63],[4.51,48],[7.14,68],[7.12,28],[8.04,149],[7.99,131],[8.15,123],[8.05,98],[8.51,53],[8.24,43],[8.24,22],
    [8.10,12],[8.38,12],[8.68,154],[8.64,120],[8.67,107],[8.64,94],[8.72,94],[8.59,76],[8.87,58],[8.98,209],[9.09,45],[9.08,25],[8.92,13],
    [9.36,22],[12.98,162],[13.27,72],[14.26,294],[14.31,85],[14.50,37],[14.58,32],[16.78,181],[16.83,47],[16.95,42],[18.37,70],[18.86,58],
    [20.15,290],[20.20,151],[20.17,129],[20.42,161],[20.39,103],[20.55,84],[20.40,76],[20.22,54],[20.58,48],[20.59,29],[20.74,22]];
const ndZDots = [[0.02,249],[0.00,242],[0.10,222],[0.11,181],[0.06,165],[0.00,162],[0.08,149],[0.03,144],[0.14,129],[0.16,119],
    [4.32,281],[4.45,227],[4.41,177],[3.94,74],[3.93,70],[4.51,71],[4.48,58],[4.59,5.5],[5.31,179],[5.91,119],[5.47,62],[5.56,52],
    [5.60,38],[5.49,22],[5.61,8],[5.50,5.5],[5.11,0.4],[6.15,0],
    [7.45,260],[8.12,248],[7.49,234],[7.22,230],[7.85,231],[7.86,212],[7.15,208],[8.79,239],[7.44,140],[7.96,120],[7.11,84],[7.27,74],
    [7.97,72],[7.96,56],[7.19,39],[7.08,33],[7.67,19],[7.01,11],[7.63,10],[6.93,5.5],[7.17,4],[8.15,2.5],[8.29,6],[8.49,2],[8.76,153],
    [8.75,145],[8.79,127],[8.84,87],[8.73,70],[8.68,40],[8.81,42],[8.98,23],[9.15,51],[9.28,31],[9.30,28],[9.42,18],[9.22,13],[9.20,9],
    [9.11,5.5],[9.19,1.4],[9.36,5.5],[9.47,0],[9.57,6],[8.94,6],[8.53,10],
    [11.54,245],[11.55,228],[12.00,224],[11.57,201],[12.53,187],[11.60,176],[12.04,141],[12.02,116],[11.68,98],[12.65,57],[11.83,36],
    [12.13,30],[11.82,23],[12.06,20],[11.68,7],[12.02,6],[11.85,0],[12.10,0],[12.48,0],[12.57,0],[12.87,0],[12.92,12],[12.95,9],[13.03,15],
    [13.03,18],[13.05,25],[13.00,39],[12.92,86],[13.25,90],[13.30,5],
    [14.23,237],[14.53,184],[14.20,159],[14.36,155],[14.18,136],[14.50,109],[14.89,95],[14.73,92],[14.95,66],[14.54,53],[15.03,47],
    [14.28,33],[14.95,33],[14.80,31],[15.02,25],[15.05,18],[14.47,8],[14.67,11],[14.99,8],[14.86,5.5],[14.31,3.5],[14.39,3.5],[14.59,1],
    [14.47,2.5],[14.84,0.5],[15.08,2.5],[15.10,0],
    [15.62,9],[15.63,0.4],[15.85,0.4],[15.96,1.4],[16.01,0],[16.09,8.6],[16.09,42],[16.14,35],[16.14,92],[16.10,76],[16.21,0],[16.56,19],
    [16.58,0],[16.75,0],[16.81,246],[16.88,24],[16.89,71],[16.96,0],[16.99,2.5],[17.35,224],[17.38,114],[17.46,142],[17.40,53],[17.41,24],
    [17.55,31],[17.63,16],[17.49,6],[17.46,0],[17.62,0],[17.71,0],[17.85,0],
    [18.09,160],[18.17,150],[18.12,132],[18.14,107],[18.15,97],[18.04,89],[18.37,112],[18.45,222],[18.48,140],[18.07,56],[18.39,54],
    [18.44,44],[18.20,35],[18.50,33],[18.74,84],[18.70,75],[18.67,57],[18.69,28],[18.66,34],[18.83,27],[18.88,23],[18.20,27],[18.09,19],
    [18.10,12],[18.25,11],[18.40,7],[18.81,15],[18.80,17],[18.64,11],[18.66,5],[18.53,0.8],[18.61,0],[19.02,0],[19.19,105],[19.18,75],
    [19.27,60],[19.30,15],[19.43,118],[19.49,137],[19.73,161],[19.70,118],[19.68,41],[19.74,35],[19.71,32],[19.19,4.5],[19.32,0],
    [19.43,0.4],[19.51,0],[19.62,0.8],[20.11,170],[20.50,238],[20.26,92],[20.48,94],[20.31,66],[20.53,64],[20.42,61],[20.58,37],[20.63,40],
    [20.11,25],[20.20,23],[20.29,18],[20.67,2],[20.78,0],[21.11,6],
    [22.69,272],[22.88,232],[22.82,167],[22.89,97],[22.71,78],[22.96,73],[22.63,65],[22.94,54],[23.45,239],[22.97,0]];

// ---------- panel 6: optical depth ----------
const odD98X = [[0.08,6.2],[0.10,5.3],[4.38,7.8],[7.74,3.5],[7.77,2.6],[7.86,5.0],[7.90,6.5],[7.94,9.6],[8.04,11.4],[8.10,10.2],[8.20,8.4],
    [8.26,12.0],[8.32,13.3],[8.38,12.3],[8.42,10.8],[8.45,9.6],[8.35,8.7],[8.49,7.8],[8.79,12.0],[8.87,12.3],[8.94,10.8],[8.83,9.6],
    [8.98,11.4],[9.06,9.9],[9.11,9.9],[8.76,10.8],[8.89,8.7],[20.45,9.9],[20.55,10.8],[20.50,9.6]];
const odD98Dots = [[4.41,14.5],[4.45,13.6],[4.46,12.3],[4.37,8.4],[4.35,7.5],[7.22,3.8],[20.29,6.2],[20.26,4.1],[20.67,3.5],[20.77,5.3],
    [20.64,8.7]];
const odZX = [[7.14,9.8],[7.12,6.7],[4.46,8.7],[4.41,7.8],[4.51,3.5],[4.48,5.0],[7.97,8.7],[8.04,9.3],[8.08,11.4],[8.18,13.6],[8.16,10.8],
    [8.23,6.5],[8.29,5.9],[8.40,7.8],[8.48,9.0],[8.54,6.8],[8.64,7.8],[8.70,6.5],[8.79,5.6],[8.86,7.8],[8.94,7.2],[8.98,4.7],[9.08,8.1],
    [9.11,5.3],[9.38,3.5],[9.39,2.6],[8.10,5.0],[8.05,7.2],[8.48,5.9],[8.57,8.1],[8.73,8.4],[8.92,5.9],[9.05,4.1],[12.97,62.6],[12.98,54.1],
    [13.27,7.3],[14.28,20.7],[14.26,11.6],[14.50,11.4],[14.56,5.7],[16.78,36.9],[16.81,8.1],[16.95,4.1],[18.37,4.8],[18.86,12.3],
    [20.15,41.3],[20.17,32.6],[20.47,36.5],[20.45,26.1],[20.20,12.7],[20.42,16.3],[20.55,15.7],[20.40,11.7],[20.22,9.3],[20.58,9.9],
    [20.59,6.5],[20.72,3.8]];
const odZDots = [[0.03,10.8],[0.08,9.0],[0.05,7.8],[3.91,6.2],[3.94,2.9],[3.94,1.8],[4.16,3.2],[4.32,4.4],[4.43,60.6],[4.45,32.8],
    [4.41,20.9],[4.59,0.6],[5.11,0.1],[5.33,2.9],[5.49,2.6],[5.60,2.0],[5.56,0.6],[5.91,1.2],[6.15,0.1],
    [7.30,23.2],[7.33,13.6],[7.45,13.0],[7.25,11.6],[7.44,11.4],[7.50,7.9],[7.11,2.6],[7.17,3.5],[7.17,1.2],[6.95,0.6],[7.01,0.9],[7.27,5.4],
    [7.61,0.7],[7.53,6.2],[7.69,6.5],[7.86,7.2],[8.12,15.3],[8.16,14.5],[8.54,2.6],[8.51,4.1],[8.73,3.2],[9.12,1.2],[9.22,1.8],[9.27,4.1],
    [9.47,0.4],[9.57,0.7],[9.42,1.3],
    [11.46,10.8],[11.52,8.5],[11.47,5.3],[11.57,4.7],[11.57,2.9],[11.68,2.0],[11.66,1.2],[11.82,2.3],[11.87,0.1],[12.04,10.2],[12.04,7.2],
    [12.01,4.7],[12.04,1.0],[12.12,0.7],[12.46,6.5],[12.54,4.4],[12.65,1.7],[12.50,0.1],[12.91,27.6],[13.00,6.2],[13.03,3.2],[12.92,2.6],
    [12.98,1.5],[13.05,0.7],[12.87,0.1],[13.28,10.8],[13.25,4.7],[13.38,4.1],[13.30,0.9],
    [14.39,82.3],[14.39,36.8],[14.36,34.8],[14.45,25.0],[14.26,15.4],[14.48,15.5],[14.54,17.1],[14.94,19.5],[14.95,16.0],[14.23,9.3],
    [14.28,8.4],[14.20,5.0],[14.50,3.0],[14.69,2.6],[14.73,3.9],[14.89,6.8],[14.99,9.3],[15.00,5.9],[15.00,4.1],[14.86,2.0],[14.80,0.9],
    [14.62,0.4],[15.08,1.0],[15.10,0.1],
    [15.62,1.3],[15.63,0.4],[15.85,0.1],[15.98,0.4],[16.04,0.1],[16.09,1.7],[16.10,7.3],[16.14,5.4],[16.14,3.8],[16.21,0.1],[16.56,1.3],
    [16.62,0.1],[16.81,18.3],[16.94,15.3],[16.86,0.1],[16.99,0.7],[17.38,7.0],[17.41,3.5],[17.46,1.0],[17.57,1.7],[17.63,0.1],[17.71,0.6],
    [17.85,0.1],
    [18.04,2.6],[18.09,9.0],[18.14,5.6],[18.18,10.2],[18.20,2.3],[18.25,0.7],[18.44,7.5],[18.45,13.4],[18.48,10.8],[18.53,2.9],[18.64,1.5],
    [18.66,7.0],[18.69,20.7],[18.74,20.1],[18.72,18.3],[18.69,16.7],[18.77,15.1],[18.81,14.2],[18.83,9.3],[18.89,8.7],[18.88,5.4],
    [18.94,2.4],[19.04,0.1],[19.18,4.7],[19.22,2.4],[19.27,1.0],[19.32,0.1],[19.43,5.0],[19.49,4.1],[19.52,0.1],[19.66,2.9],[19.70,2.3],
    [19.73,16.0],[20.11,27.2],[20.09,5.3],[20.28,2.9],[20.26,1.7],[20.36,5.7],[20.48,24.1],[20.52,20.0],[20.53,19.1],[20.67,1.2],[20.78,0.1],
    [21.11,0.4],[22.63,0.7],[22.69,3.6],[22.71,2.4],[22.80,5.0],[22.85,8.4],[22.89,4.1],[22.88,2.4],[22.96,6.7],[22.97,3.6],[22.99,0.1],
    [23.45,2.3]];

// ---------- layout & style ----------
const FONT = '"DejaVu Sans", sans-serif';
const PLOT_LEFT = 372, PLOT_RIGHT = 2996, PAD_TOP = 40, XAXIS_H = 160, CANVAS_W = 3040;
const Y_TITLE_X = 218;
const AX_BLUE = '#0072BD', DARK = '#262626', ORANGE = '#FF8C00', BLUE = '#0000FF', BROWN = '#A52A2A';
const CB_MIN = -60, CB_MAX = 20, CB_LEVELS = 64;
const PX_PER_HOUR = (PLOT_RIGHT - PLOT_LEFT) / 24;

function jet(t) {
    const c = v => Math.round(255 * Math.max(0, Math.min(1, v)));
    return `rgb(${c(1.5 - Math.abs(4 * t - 3))},${c(1.5 - Math.abs(4 * t - 2))},${c(1.5 - Math.abs(4 * t - 1))})`;
}
function dbzColor(z) {
    const k = Math.max(0, Math.min(CB_LEVELS - 1, Math.floor((z - CB_MIN) / (CB_MAX - CB_MIN) * CB_LEVELS)));
    return jet((k + 0.5) / CB_LEVELS);
}

// marker bitmaps (MATLAB '.' and 'x')
function dotMarker(color, w, h) {
    const c = document.createElement('canvas');
    c.width = w + 2; c.height = h + 2;
    const g = c.getContext('2d');
    g.fillStyle = color;
    g.beginPath();
    g.ellipse(c.width / 2, c.height / 2, w / 2, h / 2, 0, 0, Math.PI * 2);
    g.fill();
    return c;
}
function crossMarker(color, w, h, lw) {
    const c = document.createElement('canvas');
    c.width = w + lw; c.height = h + lw;
    const g = c.getContext('2d');
    g.strokeStyle = color; g.lineWidth = lw;
    const x0 = lw / 2, y0 = lw / 2;
    g.beginPath();
    g.moveTo(x0, y0); g.lineTo(x0 + w, y0 + h);
    g.moveTo(x0 + w, y0); g.lineTo(x0, y0 + h);
    g.stroke();
    return c;
}
const dotBlue = dotMarker(BLUE, 11, 8), dotOrange = dotMarker(ORANGE, 11, 8), dotBlack = dotMarker('#000', 16, 12);
const xBlue = crossMarker(BLUE, 22, 18, 7), xOrange = crossMarker(ORANGE, 22, 18, 7), xBrown = crossMarker(BROWN, 22, 18, 7);

const pts = arr => arr.map(p => ({x: p[0], y: p[1]}));

function runsToPoints(rows) {
    const out = [];
    rows.forEach(([y, items]) => {
        items.forEach(it => {
            if (Array.isArray(it)) {
                out.push({x: it[0], y: y}, {x: it[1], y: y}, {x: it[1], y: null});
            } else {
                out.push({x: it, y: y}, {x: it, y: null});
            }
        });
    });
    return out;
}

// inward ticks + right frame line, like the MATLAB axes
const axesDecor = {
    id: 'axesDecor',
    afterDatasetsDraw(chart) {
        const {ctx, chartArea: a, scales} = chart;
        ctx.save();
        ctx.lineWidth = 2;
        ctx.strokeStyle = AX_BLUE;
        ctx.beginPath();
        scales.y.ticks.forEach(t => {
            const y = Math.round(scales.y.getPixelForValue(t.value)) + 0.5;
            ctx.moveTo(a.left, y); ctx.lineTo(a.left + 27, y);
        });
        ctx.stroke();
        ctx.strokeStyle = DARK;
        ctx.beginPath();
        scales.x.ticks.forEach(t => {
            const x = Math.round(scales.x.getPixelForValue(t.value)) + 0.5;
            ctx.moveTo(x, a.bottom); ctx.lineTo(x, a.bottom - 27);
        });
        ctx.stroke();
        ctx.strokeStyle = AX_BLUE;
        ctx.lineWidth = 1.5;
        ctx.beginPath();
        ctx.moveTo(a.right, a.top); ctx.lineTo(a.right, a.bottom);
        ctx.stroke();
        ctx.restore();
    }
};

function floatLegend(items) {
    return {
        id: 'floatLegend',
        afterDraw(chart) {
            const ctx = chart.ctx;
            ctx.save();
            ctx.font = `36px ${FONT}`;
            ctx.textBaseline = 'middle';
            ctx.fillStyle = '#000';
            items.forEach(it => {
                if (it.img) ctx.drawImage(it.img, it.x - it.img.width / 2, it.y - it.img.height / 2);
                if (it.line) {
                    ctx.strokeStyle = it.line; ctx.lineWidth = 5;
                    ctx.beginPath(); ctx.moveTo(it.x0, it.y); ctx.lineTo(it.x1, it.y); ctx.stroke();
                }
                ctx.fillText(it.text, it.tx, it.y);
            });
            ctx.restore();
        }
    };
}

function splitYTitle(parts) {
    return {
        id: 'splitYTitle',
        afterDraw(chart) {
            const {ctx, chartArea: a} = chart;
            ctx.save();
            ctx.font = `45px ${FONT}`;
            const gap = 40;
            const widths = parts.map(p => ctx.measureText(p.text).width);
            const total = widths.reduce((s, w) => s + w, 0) + gap * (parts.length - 1);
            ctx.translate(Y_TITLE_X, (a.top + a.bottom) / 2);
            ctx.rotate(-Math.PI / 2);
            ctx.textBaseline = 'middle';
            ctx.textAlign = 'left';
            let x = -total / 2;
            parts.forEach((p, i) => { ctx.fillStyle = p.color; ctx.fillText(p.text, x, 0); x += widths[i] + gap; });
            ctx.restore();
        }
    };
}

function panelOptions(o) {
    return {
        responsive: false,
        animation: false,
        devicePixelRatio: 1,
        layout: {padding: {top: PAD_TOP, right: CANVAS_W - PLOT_RIGHT, left: 0, bottom: 0}},
        plugins: {legend: {display: false}, tooltip: {enabled: false}},
        scales: {
            x: {
                type: 'linear', min: 0, max: 24, offset: false,
                afterBuildTicks: s => { s.ticks = xTicks.map(v => ({value: v})); },
                afterFit: s => { s.height = XAXIS_H; },
                grid: {display: false, drawTicks: false, offset: false},
                border: {display: true, color: DARK, width: 2},
                ticks: {color: DARK, font: {family: FONT, size: 35}, padding: 30, maxRotation: 0, autoSkip: false,
                        callback: v => String(v)},
                title: {display: true, text: 'UTC hours on 20250130', color: DARK, font: {family: FONT, size: 42},
                        padding: {top: 0, bottom: 21}}
            },
            y: {
                type: 'linear', min: o.ymin, max: o.ymax,
                afterBuildTicks: s => { s.ticks = o.yTicks.map(v => ({value: v})); },
                afterFit: s => { s.width = PLOT_LEFT; },
                grid: {display: false, drawTicks: false},
                border: {display: true, color: AX_BLUE, width: 2},
                ticks: {color: AX_BLUE, font: {family: FONT, size: 35}, padding: 37, autoSkip: false, callback: v => String(v)},
                title: {display: !!o.ytitle, text: o.ytitle || '', color: AX_BLUE, font: {family: FONT, size: 45},
                        padding: {top: Y_TITLE_X - 27, bottom: 0}}
            }
        }
    };
}

function markerSet(data, img, order) {
    return {type: 'scatter', data: pts(data), pointStyle: img, pointRadius: 6, order: order};
}

// ---------- panel 1 ----------
const cellWidths = [...new Set(reflCells.map(c => c[1]))].sort((a, b) => a - b);
const reflDatasets = cellWidths.map((w, i) => {
    const cells = reflCells.filter(c => c[1] === w);
    return {
        type: 'bar',
        data: cells.map(c => ({x: c[0], y: [c[2], c[3]]})),
        backgroundColor: cells.map(c => dbzColor(c[4])),
        borderWidth: 0,
        barThickness: Math.max(1, w * PX_PER_HOUR),
        grouped: false,
        order: 10 + i
    };
});
new Chart(document.getElementById('p1'), {
    type: 'scatter',
    data: {datasets: [...reflDatasets, markerSet(baseHeights, dotBlack, 1)]},
    options: panelOptions({ymin: 0, ymax: 4, yTicks: altTicks, ytitle: 'Altitude, AGL km'}),
    plugins: [axesDecor]
});

// colour bar
const cbStep = (CB_MAX - CB_MIN) / CB_LEVELS;
new Chart(document.getElementById('cbar'), {
    type: 'bar',
    data: {
        labels: [''],
        datasets: Array.from({length: CB_LEVELS}, (_, k) => ({
            data: [[CB_MIN + k * cbStep, CB_MIN + (k + 1) * cbStep]],
            backgroundColor: jet((k + 0.5) / CB_LEVELS),
            borderWidth: 0, barThickness: 187, grouped: false
        }))
    },
    options: {
        responsive: false, animation: false, devicePixelRatio: 1,
        layout: {padding: {left: 91, top: 40, bottom: 40, right: 0}},
        plugins: {legend: {display: false}, tooltip: {enabled: false}},
        scales: {
            x: {display: false},
            y: {
                position: 'right', min: CB_MIN, max: CB_MAX,
                afterBuildTicks: s => { s.ticks = dbzTicks.map(v => ({value: v})); },
                afterFit: s => { s.width = 825 - 278; },
                grid: {display: false, drawTicks: false},
                border: {display: false},
                ticks: {color: DARK, font: {family: FONT, size: 35}, padding: 26, callback: v => String(v)}
            }
        }
    },
    plugins: [{
        id: 'cbFrame',
        afterDraw(chart) {
            const {ctx, chartArea: a, scales} = chart;
            ctx.save();
            ctx.strokeStyle = DARK; ctx.lineWidth = 2;
            ctx.strokeRect(a.left, a.top, a.right - a.left, a.bottom - a.top);
            ctx.beginPath();
            scales.y.ticks.forEach(t => {
                const y = Math.round(scales.y.getPixelForValue(t.value)) + 0.5;
                ctx.moveTo(a.right, y); ctx.lineTo(a.right - 10, y);
            });
            ctx.stroke();
            ctx.fillStyle = DARK;
            ctx.font = `36px ${FONT}`;
            ctx.textAlign = 'left';
            ctx.textBaseline = 'alphabetic';
            [['ARM KAZR GE Mode', 435], ['Merged Reflectivity, dBZ', 478]].forEach(([txt, bx]) => {
                ctx.save();
                ctx.translate(bx, 722);
                ctx.rotate(-Math.PI / 2);
                ctx.fillText(txt, 0, 0);
                ctx.restore();
            });
            ctx.restore();
        }
    }]
});

// ---------- panel 2 ----------
new Chart(document.getElementById('p2'), {
    type: 'scatter',
    data: {datasets: [
        {type: 'scatter', showLine: true, spanGaps: false, data: runsToPoints(d98FlagRuns), borderColor: ORANGE, borderWidth: 8,
         pointStyle: dotOrange, pointRadius: 5, order: 1},
        {type: 'scatter', showLine: true, spanGaps: false, data: runsToPoints(zlwpFlagRuns), borderColor: BLUE, borderWidth: 8,
         pointStyle: dotBlue, pointRadius: 5, order: 2}
    ]},
    options: panelOptions({ymin: -0.5, ymax: 11.5, yTicks: flagTicks}),
    plugins: [axesDecor, splitYTitle([
        {text: 'DQ Flag', color: AX_BLUE}, {text: 'D98 &', color: ORANGE}, {text: 'Z-LWP', color: BLUE}
    ])]
});

// ---------- panel 3 ----------
new Chart(document.getElementById('p3'), {
    type: 'scatter',
    data: {datasets: [
        {type: 'scatter', showLine: true, spanGaps: false, data: pts(lwpSeries), borderColor: BROWN, borderWidth: 3,
         pointRadius: 0, order: 2},
        markerSet(lwpMarks, xBrown, 1)
    ]},
    options: panelOptions({ymin: -0.1, ymax: 3.58, yTicks: lwpTicks, ytitle: 'log10 Liquid Water Path, log10(g/m\u00B2)'}),
    plugins: [axesDecor, floatLegend([{line: BROWN, x0: 1979, x1: 2254, y: 91, text: 'MWR3C LWP corrected', tx: 2284}])]
});

// ---------- panel 4 ----------
new Chart(document.getElementById('p4'), {
    type: 'scatter',
    data: {datasets: [
        markerSet(reZX, xBlue, 1), markerSet(reD98X, xOrange, 2), markerSet(reZDots, dotBlue, 3), markerSet(reD98Dots, dotOrange, 4)
    ]},
    options: panelOptions({ymin: 0, ymax: 20, yTicks: reTicks, ytitle: 'Effective Radius,\u03BC m'}),
    plugins: [axesDecor, floatLegend([
        {img: xOrange, x: 620, y: 108, text: 'D98 Re', tx: 791},
        {img: xBlue, x: 620, y: 159, text: 'Z-LWP', tx: 791}
    ])]
});

// ---------- panel 5 ----------
new Chart(document.getElementById('p5'), {
    type: 'scatter',
    data: {datasets: [
        markerSet(ndZX, xBlue, 1), markerSet(ndD98X, xOrange, 2), markerSet(ndZDots, dotBlue, 3), markerSet(ndD98Dots, dotOrange, 4)
    ]},
    options: panelOptions({ymin: 0, ymax: 300, yTicks: ndTicks, ytitle: 'Droplet Concentration, #/cc'}),
    plugins: [axesDecor, floatLegend([
        {img: xOrange, x: 1912, y: 107, text: 'D98 Nd', tx: 2079},
        {img: xBlue, x: 1912, y: 156, text: 'Z-LWP Nd', tx: 2079}
    ])]
});

// ---------- panel 6 ----------
new Chart(document.getElementById('p6'), {
    type: 'scatter',
    data: {datasets: [
        markerSet(odZX, xBlue, 1), markerSet(odD98X, xOrange, 2), markerSet(odZDots, dotBlue, 3), markerSet(odD98Dots, dotOrange, 4)
    ]},
    options: panelOptions({ymin: 0, ymax: 86.3, yTicks: odTicks, ytitle: 'Optical Depth'}),
    plugins: [axesDecor, floatLegend([
        {img: xOrange, x: 2561, y: 102, text: 'D98 OD', tx: 2728},
        {img: xBlue, x: 2561, y: 155, text: 'Z-LWP Nd', tx: 2728}
    ])]
});
</script>
</body>
</html>
